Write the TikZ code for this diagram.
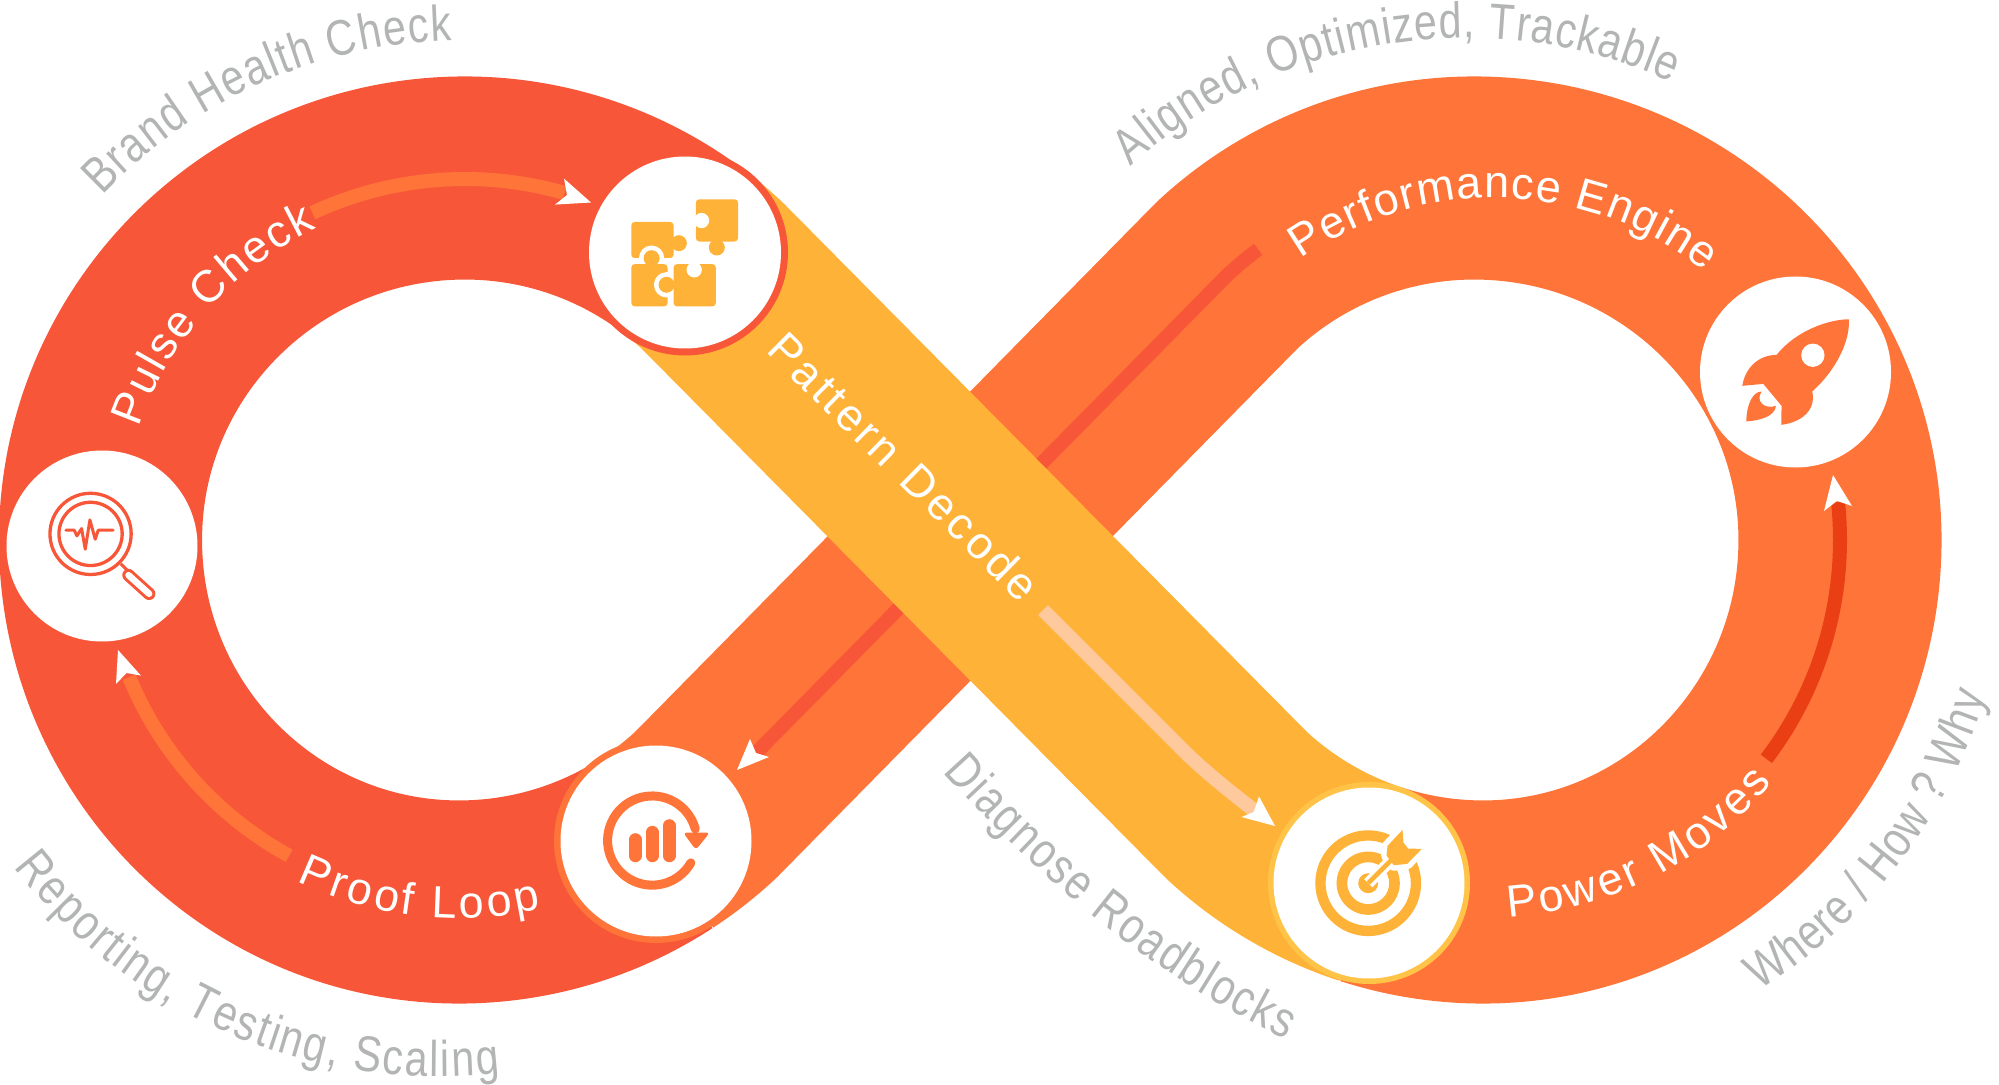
\documentclass[tikz,border=0pt]{standalone}
\usepackage{fontspec}
\setmainfont{Liberation Sans}
\newfontfamily\gfam[FakeStretch=0.82]{Liberation Sans}
\usetikzlibrary{decorations.text}
\definecolor{cred}{HTML}{F75738}
\definecolor{corange}{HTML}{FF7438}
\definecolor{cyellow}{HTML}{FFB238}
\definecolor{cpale}{HTML}{FFC99E}
\definecolor{cring}{HTML}{FFC347}
\definecolor{cdeep}{HTML}{EA3E15}
\definecolor{cgrey}{HTML}{B3B5B5}
\newcommand{\wfont}{\fontsize{12.8pt}{14pt}\selectfont\color{white}}
\newcommand{\gfont}{\gfam\fontsize{14.3pt}{15pt}\selectfont\color{cgrey}}
\tikzset{
  band/.style={line width=2.03cm,line cap=butt,line join=round},
  thinarc/.style={line width=0.14cm,line cap=butt,line join=round},
  tipw/.style={fill=white,draw=none},
  wlabel/.style={decorate,decoration={text along path,text align={fit to path},text={|\wfont|#1}}},
  glabel/.style={decorate,decoration={text along path,text align={fit to path},text={|\gfont|#1}}},
  iconz/.style={x=0.0033333cm,y=-0.0033333cm},
  hub/.style={fill=white,draw=none}
}
\begin{document}
\begin{tikzpicture}[x=0.01cm,y=-0.01cm]
\useasboundingbox (0,0) rectangle (1999,1085);
% orange band
\draw[band,corange] ({459+362*cos(56.8)},{540+362*sin(56.8)})
  arc[start angle=56.8,end angle=47,radius=362]
  -- ({1474+362*cos(-133)},{540+362*sin(-133)})
  arc[start angle=-133,end angle=-90,radius=362]
  arc[start angle=-90,end angle=0,x radius=366,y radius=362]
  arc[start angle=0,end angle=90,x radius=357,y radius=362]
  arc[start angle=90,end angle=108,radius=362];
% red thin line on orange diagonal
\draw[thinarc,cred] ({1474+362*cos(-126.6)},{540+362*sin(-126.6)})
  arc[start angle=-126.6,end angle=-133,radius=362] -- (756,753);
% red band
\draw[band,cred] ({459+362*cos(56.8)},{540+362*sin(56.8)})
  arc[start angle=56.8,end angle=90,radius=362]
  arc[start angle=90,end angle=180,x radius=358.5,y radius=362]
  arc[start angle=-180,end angle=-90,x radius=364.5,y radius=362]
  arc[start angle=-90,end angle=-52.6,radius=362];
% yellow band
\draw[band,cyellow] ({465+362*cos(-52.6)},{540+362*sin(-52.6)})
  arc[start angle=-52.6,end angle=-47,radius=362]
  -- ({1483+362*cos(133)},{540+362*sin(133)})
  arc[start angle=133,end angle=108,radius=362];
% pale arrow
\draw[thinarc,cpale] (1043,610) -- (1175,742) .. controls (1200,768) and (1228,790) .. (1255,811);
\fill[tipw] (1275,826) -- (1259,796.5) -- (1253.7,812) -- (1241.6,817) -- cycle;
% other arrows
\draw[thinarc,corange] ({465+361*cos(-115)},{540+361*sin(-115)}) arc[start angle=-115,end angle=-74,radius=361];
\fill[tipw] (591,202.5) -- (564,178.6) -- (567,195) -- (555,204.6) -- cycle;
\draw[thinarc,corange] ({462+360*cos(118.7)},{540+360*sin(118.7)}) arc[start angle=118.7,end angle=157.6,radius=360];
\fill[tipw] (118,650) -- (141,675.6) -- (126.5,673) -- (116,684) -- cycle;
\draw[thinarc,cdeep] ({1478+362*cos(37.2)},{540+362*sin(37.2)}) arc[start angle=37.2,end angle=-6,radius=362];
\fill[tipw] (1833,475) -- (1852,506) -- (1837,501) -- (1824,511) -- cycle;
\fill[tipw] (737,770) -- (750,739) -- (756,753) -- (769,757) -- cycle;
% hubs
\fill[cred] (685,252.5) circle[radius=103];
\fill[hub] (685,252.5) circle[radius=96];
\fill[corange] (656,841) circle[radius=102];
\fill[hub] (656,841) circle[radius=95.5];
\fill[cring] (1369,883) circle[radius=101];
\fill[hub] (1369,883) circle[radius=95.5];
\fill[hub] (102,546) circle[radius=95.5];
\fill[hub] (1795.5,372) circle[radius=95.5];
% puzzle icon
\begin{scope}[shift={(600,150)},iconz]
 \fill[cyellow,rounded corners=1pt] (288,148) -- (415,148) -- (415,275) -- (288,275) -- cycle;
 \fill[cyellow] (351,293) circle[radius=24];
 \fill[white] (305,212) circle[radius=23];
 \fill[white] (270,212) rectangle (288,240);
 \fill[cyellow,rounded corners=1pt] (94,325) -- (94,216) -- (221,216) -- (221,325) -- cycle;
 \fill[cyellow] (237,280) circle[radius=24];
 \fill[white] (155,325) circle[radius=38];
 \fill[white] (90,325) rectangle (225,343);
 \fill[cyellow,rounded corners=1pt] (94,343) -- (203,343) -- (203,470) -- (94,470) -- cycle;
 \fill[cyellow] (155,325) circle[radius=24];
 \fill[white] (200,405) circle[radius=38];
 \fill[white] (203,343) rectangle (221,475);
 \fill[cyellow,rounded corners=1pt] (221,343) -- (348,343) -- (348,470) -- (221,470) -- cycle;
 \fill[cyellow] (200,405) circle[radius=24];
 \fill[white] (283,360) circle[radius=23];
\end{scope}
% target icon
\begin{scope}[shift={(1290,790)},iconz]
 \fill[cyellow,even odd rule] (235,280) circle[radius=159] (235,280) circle[radius=128];
 \fill[cyellow,even odd rule] (235,280) circle[radius=95] (235,280) circle[radius=63];
 \fill[cyellow] (235,280) circle[radius=30];
 \draw[white,line width=0.115cm] (235,280) -- (320,195);
 \draw[white,line width=0.11cm,line join=round,fill=white] (338,120) -- (341,158) -- (355,176) -- (396,177) -- (352,222) -- (312,226) -- (290,197) -- (293,168) -- cycle;
 \draw[cyellow,line width=0.045cm] (235,280) -- (320,195);
 \fill[cyellow] (338,120) -- (341,158) -- (355,176) -- (396,177) -- (352,222) -- (312,226) -- (290,197) -- (293,168) -- cycle;
\end{scope}
% loop icon
\begin{scope}[shift={(570,770)},iconz]
 \draw[corange,line width=0.09cm,line cap=round] ({247+134*cos(30)},{212+134*sin(30)})
   arc[start angle=30,end angle=345,radius=134];
 \fill[corange,rounded corners=1pt] (340,188) -- (420,188) -- (378,240) -- cycle;
 \draw[corange,line width=0.127cm,line cap=round] (196,209) -- (196,258);
 \draw[corange,line width=0.127cm,line cap=round] (247,187) -- (247,258);
 \draw[corange,line width=0.127cm,line cap=round] (298,167) -- (298,258);
\end{scope}
% magnifier icon
\begin{scope}[shift={(30,470)},iconz]
 \draw[cred,line width=0.033cm] (182,192) circle[radius=122];
 \draw[cred,line width=0.033cm] (182,192) circle[radius=95];
 \draw[cred,line width=0.03cm,line cap=round,line join=round] (108,181) -- (133,181) -- (141,198) -- (155,176) -- (166,238) -- (180,150) -- (196,208) -- (205,181) -- (250,181);
 \draw[cred,line width=0.03cm] (273,282) -- (292,301);
 \draw[cred,line width=0.125cm,line cap=round] (296,316) -- (358,372);
 \draw[white,line width=0.065cm,line cap=round] (296,316) -- (358,372);
\end{scope}
% rocket icon
\begin{scope}[shift={(1720,300)},iconz]
 \fill[corange] (387,58) .. controls (330,58) and (230,90) .. (170,165)
   .. controls (115,165) and (75,205) .. (67,258)
   -- (130,252) -- (185,318) -- (184,375)
   .. controls (245,368) and (290,330) .. (277,275)
   .. controls (350,210) and (392,120) .. (387,58) -- cycle;
 \fill[white] (279,166) circle[radius=35];
 \fill[corange] (125,275) .. controls (100,275) and (80,310) .. (79,365)
   .. controls (120,362) and (165,350) .. (168,318)
   .. controls (135,330) and (105,305) .. (125,275) -- cycle;
\end{scope}
% white labels
\path[wlabel={Pulse Check}] ({465+345*cos(-161)},{540+345*sin(-161)}) arc[start angle=-161,end angle=-115.5,radius=345];
\path[wlabel={Performance Engine}] ({1495+338*cos(-125)},{536+338*sin(-125)}) arc[start angle=-125,end angle=-51.6,radius=338];
\path[wlabel={Proof Loop}] ({459+378*cos(115.4)},{540+378*sin(115.4)}) arc[start angle=115.4,end angle=77.5,radius=378];
\path[wlabel={Power Moves}] ({1483+378*cos(86.2)},{540+378*sin(86.2)}) arc[start angle=86.2,end angle=40,radius=378];
\path[wlabel={Pattern Decode}] (765,352) -- (1021,604);
% grey labels
\path[glabel={Brand Health Check}] ({465+500*cos(-136.5)},{540+500*sin(-136.5)}) arc[start angle=-136.5,end angle=-91.5,radius=500];
\path[glabel={Aligned, Optimized, Trackable}] ({1466+502*cos(-131.9)},{540+502*sin(-131.9)}) arc[start angle=-131.9,end angle=-65.8,radius=502];
\path[glabel={Where / How ? Why}] ({1478+531*cos(58)},{540+531*sin(58)}) arc[start angle=58,end angle=17,radius=531];
\path[glabel={Reporting, Testing, Scaling}] ({440+537*cos(142.5)},{540+537*sin(142.5)}) arc[start angle=142.5,end angle=83.6,radius=537];
\path[glabel={Diagnose Roadblocks}] (943,772) .. controls (1010,846) and (1120,958) .. (1286,1040);
\end{tikzpicture}
\end{document}
